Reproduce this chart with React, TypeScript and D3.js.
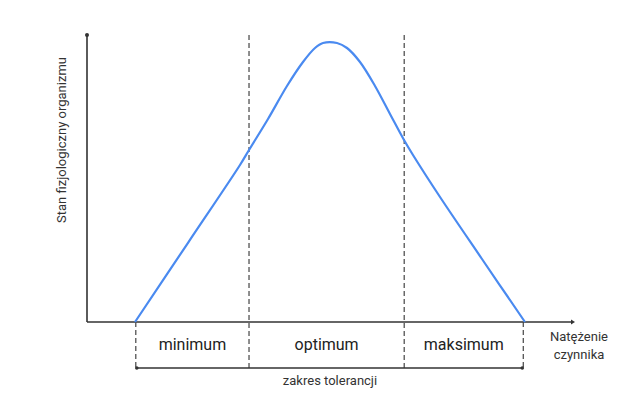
import React from "react";
import * as d3 from "d3";

const curveX = [9.84, 20.7, 31.35, 33.2, 37.09, 40.98, 44.26, 46.72, 48.36, 51.23, 53.28, 55.94, 59.02, 62.09, 64.96, 66.8, 72.34, 80.94, 89.75];
const curveY = [0, 27.6, 54.7, 59.93, 70.73, 82.23, 90.59, 95.47, 97.21, 97.21, 95.47, 90.59, 82.23, 72.47, 63.41, 58.19, 43.55, 21.95, 0];
const zoneBounds = [10, 33.2, 65, 89.4];
const zoneLabels = ["minimum", "optimum", "maksimum"];
const rangeLabel = "zakres tolerancji";
const xAxisLabel = ["Natężenie", "czynnika"];
const yAxisLabel = "Stan fizjologiczny organizmu";

const W = 640;
const H = 406;

export default function App() {
  const x = d3.scaleLinear().domain([0, 100]).range([87, 575]);
  const y = d3.scaleLinear().domain([0, 100]).range([322, 35]);
  const pts: [number, number][] = curveX.map((v, i) => [v, curveY[i]]);
  const line = d3
    .line<[number, number]>()
    .x((d) => x(d[0]))
    .y((d) => y(d[1]))
    .curve(d3.curveCatmullRom.alpha(0.5));
  const bracketY = 368;
  const axisColor = "#333";
  const font = "Roboto, 'Open Sans', sans-serif";
  return (
    <div style={{ position: "absolute", left: 0, top: 0 }}>
      <svg width={W} height={H} style={{ display: "block", background: "#fff" }}>
        <line x1={x(0)} y1={y(0)} x2={x(0)} y2={y(100)} stroke={axisColor} strokeWidth={1.6} />
        <circle cx={x(0)} cy={y(100)} r={2} fill={axisColor} />
        <line x1={x(0)} y1={y(0)} x2={x(100) - 2} y2={y(0)} stroke={axisColor} strokeWidth={1.6} />
        <path
          d={`M${x(100) - 4},${y(0) - 2.5} L${x(100)},${y(0)} L${x(100) - 4},${y(0) + 2.5} Z`}
          fill={axisColor}
        />
        {[zoneBounds[1], zoneBounds[2]].map((b, i) => (
          <line
            key={"sep" + i}
            x1={x(b)}
            x2={x(b)}
            y1={y(100)}
            y2={bracketY}
            stroke="#444"
            strokeWidth={1.2}
            strokeDasharray="5,3"
          />
        ))}
        {[zoneBounds[0], zoneBounds[3]].map((b, i) => (
          <line
            key={"br" + i}
            x1={x(b)}
            x2={x(b)}
            y1={y(0)}
            y2={bracketY - 1}
            stroke="#444"
            strokeWidth={1.2}
            strokeDasharray="5,3"
          />
        ))}
        <line
          x1={x(zoneBounds[0])}
          x2={x(zoneBounds[3])}
          y1={bracketY}
          y2={bracketY}
          stroke={axisColor}
          strokeWidth={1.4}
        />
        <circle cx={x(zoneBounds[0]) + 1} cy={bracketY} r={1.8} fill={axisColor} />
        <circle cx={x(zoneBounds[3]) - 1} cy={bracketY} r={1.8} fill={axisColor} />
        <path d={line(pts) || ""} fill="none" stroke="#4a8af0" strokeWidth={2.2} />
        {zoneLabels.map((t, i) => (
          <text
            key={t}
            x={(x(zoneBounds[i]) + x(zoneBounds[i + 1])) / 2}
            y={350}
            textAnchor="middle"
            fontFamily={font}
            fontSize={16}
            fill="#222"
          >
            {t}
          </text>
        ))}
        <text x={330} y={385} textAnchor="middle" fontFamily={font} fontSize={13} fill="#333">
          {rangeLabel}
        </text>
        {xAxisLabel.map((t, i) => (
          <text
            key={t}
            x={579}
            y={341 + i * 18}
            textAnchor="middle"
            fontFamily={font}
            fontSize={13}
            fill="#333"
          >
            {t}
          </text>
        ))}
        <text
          transform={`translate(66,140) rotate(-90)`}
          textAnchor="middle"
          fontFamily={font}
          fontSize={13}
          fill="#333"
        >
          {yAxisLabel}
        </text>
      </svg>
    </div>
  );
}
